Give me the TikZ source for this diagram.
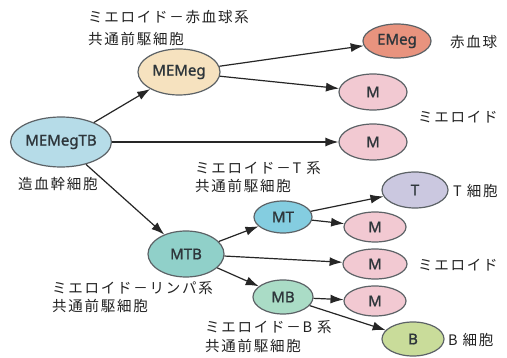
\documentclass[tikz,border=0pt]{standalone}
\usepackage{fontspec}
\usetikzlibrary{shapes.geometric,arrows.meta}
\newfontfamily\jpfont[LetterSpace=12]{Noto Sans CJK JP}
\newfontfamily\latinfont[FakeBold=1.3]{Noto Sans}
\definecolor{cStem}{HTML}{B6DCE8}
\definecolor{cMEMeg}{HTML}{F6E2BF}
\definecolor{cEMeg}{HTML}{E8937E}
\definecolor{cM}{HTML}{F2C9D2}
\definecolor{cT}{HTML}{CBC8E0}
\definecolor{cMT}{HTML}{84CDE0}
\definecolor{cMTB}{HTML}{90D0C9}
\definecolor{cMB}{HTML}{AADCC6}
\definecolor{cB}{HTML}{C9DC9A}
\definecolor{borderc}{HTML}{5C6266}
\definecolor{nodetext}{HTML}{2E363B}
\definecolor{textgray}{HTML}{222222}
\tikzset{
  cell/.style={ellipse, draw=borderc, line width=1.2pt, inner sep=0pt,
    font=\latinfont\fontsize{15}{17}\selectfont, text=nodetext},
  arr/.style={-{Latex[length=13pt,width=9pt]}, line width=1.2pt, draw=black!85},
  lbl/.style={anchor=west, font=\jpfont\fontsize{14.5}{18.5}\selectfont, align=left, inner sep=0pt, text=textgray}
}
\begin{document}
\begin{tikzpicture}[x=1pt,y=-1pt]
\useasboundingbox[fill=white] (0,0) rectangle (507,358);
% nodes
\node[cell, fill=cStem, minimum width=98pt, minimum height=50pt] (stem) at (61,142) {MEMegTB};
\node[cell, fill=cMEMeg, minimum width=82pt, minimum height=46pt] (memeg) at (179,72) {MEMeg};
\node[cell, fill=cEMeg, minimum width=68pt, minimum height=34pt] (emeg) at (397,41) {EMeg};
\node[cell, fill=cM, minimum width=68pt, minimum height=36pt] (m1) at (373,92) {M};
\node[cell, fill=cM, minimum width=68pt, minimum height=36pt] (m2) at (373,142) {M};
\node[cell, fill=cT, minimum width=66pt, minimum height=36pt] (t) at (415,190) {T};
\node[cell, fill=cMT, minimum width=58pt, minimum height=32pt] (mt) at (283,217) {MT};
\node[cell, fill=cM, minimum width=62pt, minimum height=30pt] (m3) at (375,227) {M};
\node[cell, fill=cMTB, minimum width=76pt, minimum height=46pt] (mtb) at (186,254) {MTB};
\node[cell, fill=cM, minimum width=64pt, minimum height=30pt] (m4) at (375,264) {M};
\node[cell, fill=cMB, minimum width=60pt, minimum height=34pt] (mb) at (283,297) {MB};
\node[cell, fill=cM, minimum width=62pt, minimum height=30pt] (m5) at (375,301) {M};
\node[cell, fill=cB, minimum width=62pt, minimum height=34pt] (b) at (413,339) {B};
% edges
\draw[arr] (stem) -- (memeg);
\draw[arr] (stem) -- (m2);
\draw[arr] (stem) -- (mtb);
\draw[arr] (memeg) -- (emeg);
\draw[arr] (memeg) -- (m1);
\draw[arr] (mtb) -- (mt);
\draw[arr] (mtb) -- (m4);
\draw[arr] (mtb) -- (mb);
\draw[arr] (mt) -- (t);
\draw[arr] (mt) -- (m3);
\draw[arr] (mb) -- (m5);
\draw[arr] (mb) -- (b);
% labels
\node[lbl] (l1) at (88,28) {ミエロイド－赤血球系\\[3pt]共通前駆細胞};
\node[lbl] (l2) at (450,42) {赤血球};
\node[lbl] (l3) at (418,117) {ミエロイド};
\node[lbl] (l4) at (18,184) {造血幹細胞};
\node[lbl] (l5) at (195,177) {ミエロイド－T 系\\共通前駆細胞};
\node[lbl] (l6) at (453,191) {T 細胞};
\node[lbl] (l7) at (52,297) {ミエロイド－リンパ系\\共通前駆細胞};
\node[lbl] (l8) at (418,265) {ミエロイド};
\node[lbl] (l9) at (205,336.5) {ミエロイド－B 系\\共通前駆細胞};
\node[lbl] (l10) at (448,340) {B 細胞};
\end{tikzpicture}
\end{document}
